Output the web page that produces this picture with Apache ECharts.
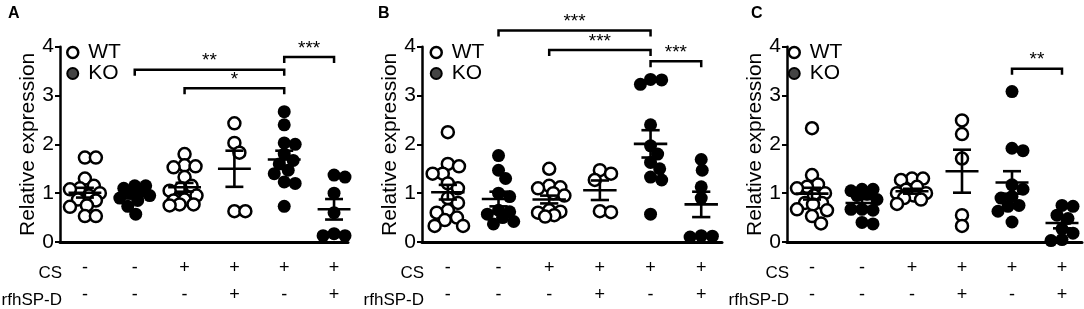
<!DOCTYPE html>
<html>
<head>
<meta charset="utf-8">
<script src="https://cdn.jsdelivr.net/npm/echarts@6/dist/echarts.min.js"></script>
<style>
  html, body { margin: 0; padding: 0; background: #fff; }
  #chart { width: 1084px; height: 309px; }
</style>
</head>
<body>
<div id="chart"></div>
<script>
// treatment table under each panel
const csRow = ['-', '-', '+', '+', '+', '+'];
const spdRow = ['-', '-', '-', '+', '-', '+'];
const genotype = ['WT', 'KO', 'WT', 'WT', 'KO', 'KO'];
const yTicks = [0, 1, 2, 3, 4];

// panel A - individual values per group
const pointsA = [
  [1.73, 1.73, 1.3, 1.15, 1.1, 1.08, 1.0, 0.95, 0.87, 0.85, 0.75, 0.72, 0.53, 0.53],
  [1.15, 1.15, 1.1, 1.05, 1.0, 0.95, 0.9, 0.85, 0.73, 0.57],
  [1.8, 1.57, 1.55, 1.53, 1.33, 1.15, 1.1, 1.05, 0.95, 0.87, 0.85, 0.77, 0.77, 0.75],
  [2.43, 2.03, 1.83, 0.63, 0.63],
  [2.67, 2.4, 2.03, 2.0, 1.8, 1.67, 1.6, 1.47, 1.4, 1.23, 1.2, 0.73],
  [1.37, 1.33, 1.0, 0.6, 0.17, 0.13, 0.13]
];
const meanA = [1.01, 0.94, 1.12, 1.5, 1.69, 0.67];
const semA = [0.1, 0.05, 0.09, 0.37, 0.18, 0.21];
const sigA = [[2, 5, 3.53, '**'], [3, 5, 3.15, '*'], [5, 6, 3.79, '***']];

// panel B
const pointsB = [
  [2.25, 1.6, 1.55, 1.4, 1.4, 1.2, 1.1, 0.9, 0.8, 0.65, 0.6, 0.5, 0.45, 0.33, 0.33],
  [1.77, 1.47, 1.3, 1.0, 0.93, 0.65, 0.62, 0.57, 0.5, 0.42, 0.37],
  [1.5, 1.15, 1.12, 1.1, 1.0, 0.95, 0.65, 0.62, 0.6, 0.55, 0.52],
  [1.47, 1.4, 1.27, 0.63, 0.61],
  [3.33, 3.32, 3.23, 2.4, 1.97, 1.8, 1.63, 1.5, 1.33, 1.27, 0.57],
  [1.69, 1.47, 1.13, 0.9, 0.13, 0.12, 0.1]
];
const meanB = [1.02, 0.88, 0.87, 1.06, 2.01, 0.77];
const semB = [0.15, 0.15, 0.08, 0.2, 0.28, 0.26];
const sigB = [[2, 5, 4.33, '***'], [3, 5, 3.93, '***'], [5, 6, 3.7, '***']];

// panel C
const pointsC = [
  [2.33, 1.37, 1.18, 1.13, 1.1, 1.0, 0.95, 0.8, 0.8, 0.77, 0.67, 0.65, 0.53, 0.38],
  [1.08, 1.08, 1.05, 0.98, 0.95, 0.87, 0.67, 0.67, 0.65, 0.4, 0.37],
  [1.3, 1.3, 1.27, 1.13, 1.07, 1.0, 1.0, 0.95, 0.9, 0.87, 0.78],
  [2.49, 2.21, 1.71, 0.55, 0.33],
  [3.08, 1.92, 1.87, 1.17, 1.08, 0.93, 0.9, 0.75, 0.73, 0.63, 0.41],
  [0.75, 0.73, 0.55, 0.48, 0.27, 0.18, 0.05, 0.03]
];
const meanC = [0.99, 0.8, 1.04, 1.45, 1.22, 0.39];
const semC = [0.12, 0.08, 0.05, 0.44, 0.23, 0.11];
const sigC = [[5, 6, 3.55, '**']];

const FONT = 'Liberation Sans, Arial, Helvetica, sans-serif';

// spread dots sideways (beeswarm), but keep them inside the group's column
function swarm(vals, center) {
  const d = 0.22, step = 0.02, maxOff = 0.3;
  const placed = [];
  vals.forEach(function (v) {
    let best = 0, bestDist = -1;
    for (let k = 0; k * step / 2 <= maxOff + 1e-9; k++) {
      const cand = k === 0 ? 0 : (k % 2 ? 1 : -1) * Math.ceil(k / 2) * step;
      let minD = Infinity;
      placed.forEach(function (p) {
        const dx = cand - p[0], dy = v - p[1];
        minD = Math.min(minD, Math.sqrt(dx * dx + dy * dy));
      });
      if (minD >= d) { best = cand; bestDist = minD; break; }
      if (minD > bestDist) { bestDist = minD; best = cand; }
    }
    placed.push([best, v]);
  });
  return placed.map(function (p) { return [center + p[0], p[1]]; });
}

function meanItem(params, api) {
  const x = api.value(0), m = api.value(1), s = api.value(2);
  const c = api.coord([x, m]);
  const hi = api.coord([x, m + s]);
  const lo = api.coord([x, m - s]);
  const hw = api.size([0.33, 0])[0];
  const cw = api.size([0.18, 0])[0];
  const st = { stroke: '#000', lineWidth: 2.6 };
  return {
    type: 'group',
    children: [
      { type: 'line', shape: { x1: c[0] - hw, y1: c[1], x2: c[0] + hw, y2: c[1] }, style: st },
      { type: 'line', shape: { x1: c[0], y1: hi[1], x2: c[0], y2: lo[1] }, style: st },
      { type: 'line', shape: { x1: c[0] - cw, y1: hi[1], x2: c[0] + cw, y2: hi[1] }, style: st },
      { type: 'line', shape: { x1: c[0] - cw, y1: lo[1], x2: c[0] + cw, y2: lo[1] }, style: st }
    ]
  };
}

function bracketRenderer(sig) {
  return function (params, api) {
    const p1 = api.coord([api.value(0), api.value(2)]);
    const p2 = api.coord([api.value(1), api.value(2)]);
    const drop = 6;
    return {
      type: 'group',
      children: [
        {
          type: 'polyline',
          shape: { points: [[p1[0], p1[1] + drop], [p1[0], p1[1]], [p2[0], p2[1]], [p2[0], p2[1] + drop]] },
          style: { stroke: '#000', lineWidth: 2.5, fill: null }
        },
        {
          type: 'text', x: (p1[0] + p2[0]) / 2, y: p1[1] + 1,
          style: {
            text: sig[params.dataIndex][3], fill: '#000', fontSize: 19, fontFamily: FONT,
            align: 'center', verticalAlign: 'bottom'
          }
        }
      ]
    };
  };
}

const grids = [
  { left: 60, top: 46.7, width: 288, height: 200 },
  { left: 422, top: 46.7, width: 300, height: 200 },
  { left: 787, top: 46.7, width: 295, height: 200 }
];
const xRanges = [[0.5, 6.28], [0.49, 6.41], [0.5, 6.4]];
const legendLeft = [61, 424.5, 782.5];
const panels = [
  { pts: pointsA, mean: meanA, sem: semA, sig: sigA, tag: 'A', tagX: 8 },
  { pts: pointsB, mean: meanB, sem: semB, sig: sigB, tag: 'B', tagX: 378 },
  { pts: pointsC, mean: meanC, sem: semC, sig: sigC, tag: 'C', tagX: 751 }
];

const xAxes = [], yAxes = [], series = [], legends = [], graphics = [];

panels.forEach(function (pn, i) {
  xAxes.push({
    type: 'value', gridIndex: i, min: xRanges[i][0], max: xRanges[i][1],
    splitLine: { show: false },
    axisTick: { show: false },
    axisLine: { lineStyle: { color: '#000', width: 3 } },
    axisLabel: {
      customValues: [1, 2, 3, 4, 5, 6],
      formatter: function (v) { return csRow[v - 1] + '\n' + spdRow[v - 1]; },
      color: '#000', fontSize: 18, fontFamily: FONT, lineHeight: 27, margin: 13
    }
  });
  yAxes.push({
    type: 'value', gridIndex: i, min: 0, max: 4, interval: 1,
    name: 'Relative expression', nameLocation: 'middle', nameRotate: 90, nameGap: 20,
    nameTextStyle: { color: '#000', fontSize: 21, fontFamily: FONT },
    splitLine: { show: false },
    axisLine: { show: true, lineStyle: { color: '#000', width: 2.5 } },
    axisTick: { show: true, length: 5, lineStyle: { color: '#000', width: 2 } },
    axisLabel: { color: '#000', fontSize: 21, fontFamily: FONT, margin: 6 }
  });

  const wt = [], ko = [];
  pn.pts.forEach(function (vals, g) {
    const target = genotype[g] === 'WT' ? wt : ko;
    swarm(vals, g + 1).forEach(function (p) { target.push(p); });
  });
  series.push({
    type: 'scatter', name: 'WT', xAxisIndex: i, yAxisIndex: i, data: wt, clip: false,
    symbolSize: 12, itemStyle: { color: '#fff', borderColor: '#000', borderWidth: 2.5, opacity: 1 }, z: 2
  });
  series.push({
    type: 'scatter', name: 'KO', xAxisIndex: i, yAxisIndex: i, data: ko, clip: false,
    symbolSize: 13, itemStyle: { color: '#000', opacity: 1 }, z: 2
  });
  series.push({
    type: 'custom', xAxisIndex: i, yAxisIndex: i, silent: true, z: 5,
    data: pn.mean.map(function (m, g) { return [g + 1, m, pn.sem[g]]; }),
    encode: { x: 0, y: 1 }, renderItem: meanItem
  });
  series.push({
    type: 'custom', xAxisIndex: i, yAxisIndex: i, silent: true, z: 5, clip: false,
    data: pn.sig.map(function (s) { return [s[0], s[1], s[2]]; }),
    encode: { x: [0, 1], y: 2 }, renderItem: bracketRenderer(pn.sig)
  });

  legends.push({
    orient: 'vertical', left: legendLeft[i], top: 37, itemGap: 0,
    itemWidth: 11, itemHeight: 11, icon: 'circle',
    textStyle: { color: '#000', fontSize: 21, fontFamily: FONT, lineHeight: 19, padding: [0, 0, 0, 5] },
    data: [
      { name: 'WT', itemStyle: { color: '#fff', borderColor: '#000', borderWidth: 2.5 } },
      { name: 'KO', itemStyle: { color: '#444', borderColor: '#000', borderWidth: 2 } }
    ]
  });

  const axX = grids[i].left;
  graphics.push({ type: 'text', x: pn.tagX, y: 6, style: { text: pn.tag, fill: '#000', fontSize: 16, fontWeight: 'bold', fontFamily: FONT } });
  graphics.push({ type: 'text', x: axX + 2, y: 273, style: { text: 'CS', fill: '#000', fontSize: 17, fontFamily: FONT, align: 'right', verticalAlign: 'middle' } });
  graphics.push({ type: 'text', x: axX + 2, y: 300, style: { text: 'rfhSP-D', fill: '#000', fontSize: 17, fontFamily: FONT, align: 'right', verticalAlign: 'middle' } });
});

const chart = echarts.init(document.getElementById('chart'), null, { renderer: 'canvas' });
chart.setOption({
  animation: false,
  backgroundColor: '#fff',
  grid: grids,
  xAxis: xAxes,
  yAxis: yAxes,
  legend: legends,
  graphic: graphics,
  series: series
});
</script>
</body>
</html>
